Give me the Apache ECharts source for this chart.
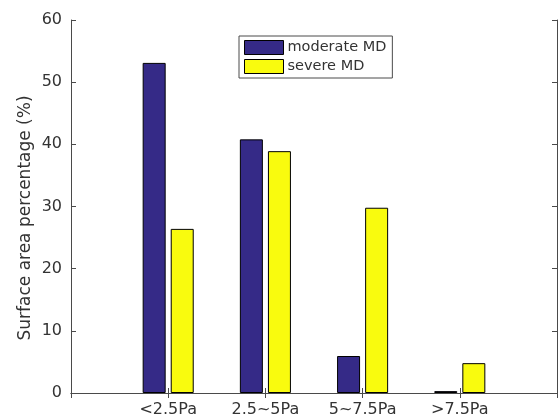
<!DOCTYPE html>
<html><head><meta charset="utf-8">
<script src="https://cdn.jsdelivr.net/npm/echarts@6/dist/echarts.min.js"></script>
<style>html,body{margin:0;padding:0;background:#fff}#c{width:560px;height:420px}</style>
</head><body><div id="c"></div>
<script>
var categories = ['', '<2.5Pa', '2.5~5Pa', '5~7.5Pa', '>7.5Pa', ''];
var moderateMD = [null, 53.1, 40.8, 5.95, 0.3, null];
var severeMD = [null, 26.4, 38.9, 29.8, 4.8, null];
var yTicks = [0, 10, 20, 30, 40, 50, 60];
var yLabel = 'Surface area percentage (%)';

var axisColor = '#4a4a4a';
var textColor = '#333333';
var font = 'DejaVu Sans';
var chart = echarts.init(document.getElementById('c'), null, {renderer: 'canvas'});
chart.setOption({
  animation: false,
  backgroundColor: '#fff',
  grid: {left: 71, top: 20, right: 1, bottom: 27, containLabel: false},
  graphic: [{
    type: 'text', x: 26, y: 218, rotation: Math.PI / 2,
    style: {text: yLabel, fontFamily: font, fontSize: 17, fill: textColor,
      textAlign: 'center', textVerticalAlign: 'middle'}
  }],
  legend: {
    left: 239, top: 36, orient: 'vertical',
    itemWidth: 39, itemHeight: 14, itemGap: 4,
    padding: [4, 6, 4, 5],
    borderColor: axisColor, borderWidth: 1, backgroundColor: '#fff',
    textStyle: {fontFamily: font, fontSize: 14.5, color: textColor, padding: [0, 0, 0, -1]},
    icon: 'rect',
    data: [{name: 'moderate MD', itemStyle: {borderColor: '#000', borderWidth: 1}},
           {name: 'severe MD', itemStyle: {borderColor: '#000', borderWidth: 1}}]
  },
  xAxis: [{
    type: 'category', data: categories, boundaryGap: false,
    axisLine: {lineStyle: {color: axisColor, width: 1}},
    axisTick: {inside: true, length: 5, lineStyle: {color: axisColor}},
    axisLabel: {fontFamily: font, fontSize: 16, color: textColor, margin: 9, interval: 0},
    splitLine: {show: false}
  }, {
    type: 'category', data: categories, boundaryGap: false, position: 'top',
    axisLine: {lineStyle: {color: axisColor, width: 1}},
    axisTick: {inside: true, length: 5, lineStyle: {color: axisColor}},
    axisLabel: {show: false}
  }],
  yAxis: [{
    type: 'value', min: 0, max: 60, interval: 10,
    axisLine: {show: true, lineStyle: {color: axisColor, width: 1}},
    axisTick: {show: true, inside: true, length: 5, lineStyle: {color: axisColor}},
    axisLabel: {fontFamily: font, fontSize: 16, color: textColor, margin: 9,
      formatter: function (v) { return yTicks.indexOf(v) >= 0 ? String(v) : ''; }},
    splitLine: {show: false}
  }, {
    type: 'value', min: 0, max: 60, interval: 10, position: 'right',
    axisLine: {show: true, lineStyle: {color: axisColor, width: 1}},
    axisTick: {show: true, inside: true, length: 5, lineStyle: {color: axisColor}},
    axisLabel: {show: false}, splitLine: {show: false}
  }],
  series: [{
    name: 'moderate MD', type: 'bar', data: moderateMD, barWidth: 23, barGap: '22%',
    itemStyle: {color: '#352a87', borderColor: '#000', borderWidth: 1}
  }, {
    name: 'severe MD', type: 'bar', data: severeMD, barWidth: 23, barGap: '22%',
    itemStyle: {color: '#f9fb0e', borderColor: '#000', borderWidth: 1}
  }]
});
</script></body></html>
